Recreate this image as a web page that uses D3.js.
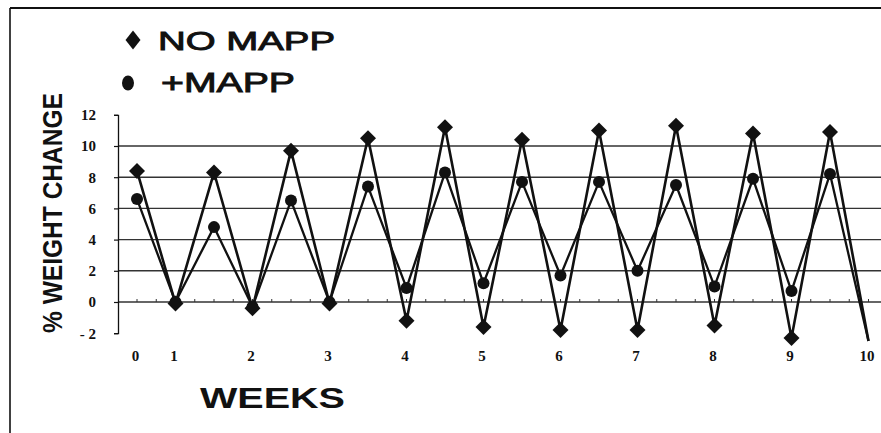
<!DOCTYPE html>
<html>
<head>
<meta charset="utf-8">
<script src="https://cdn.jsdelivr.net/npm/d3@7/dist/d3.min.js"></script>
<style>
  html, body { margin: 0; padding: 0; background: #fff; }
  svg { display: block; }
</style>
</head>
<body>
<svg id="chart" width="881" height="433"></svg>
<script>
// ---- data ----
const weekLabels = ["0","1","","2","","3","","4","","5","","6","","7","","8","","9","","10"];
const noMapp   = [8.4, -0.1, 8.3, -0.4, 9.7, -0.1, 10.5, -1.2, 11.2, -1.6, 10.4, -1.8, 11.0, -1.8, 11.3, -1.5, 10.8, -2.3, 10.9, -2.5];
const plusMapp = [6.6, 0.0, 4.8, -0.3, 6.5, 0.0, 7.4, 0.9, 8.3, 1.2, 7.7, 1.7, 7.7, 2.0, 7.5, 1.0, 7.9, 0.7, 8.2, -2.5];
const markerCount = 19; // last value of each series is the line end, drawn without a marker
const yTicks = [12, 10, 8, 6, 4, 2, 0, -2];
const gridValues = [10, 8, 6, 4, 2, 0];
const seriesNames = ["NO MAPP", "+MAPP"];

// ---- layout ----
const svg = d3.select("#chart");
const idx = d3.range(weekLabels.length);
const x = d3.scalePoint().domain(idx).range([137, 868.5]);
const y = d3.scaleLinear().domain([-2, 12]).range([333.2, 114.8]);
const ink = "#111";

// frame (top and left border)
svg.append("line").attr("x1", 10).attr("x2", 881).attr("y1", 8).attr("y2", 8)
  .attr("stroke", ink).attr("stroke-width", 2.2);
svg.append("line").attr("x1", 10).attr("x2", 10).attr("y1", 8).attr("y2", 433)
  .attr("stroke", ink).attr("stroke-width", 1.6);

// grid lines
svg.append("g").selectAll("line").data(gridValues).join("line")
  .attr("x1", 118).attr("x2", 881)
  .attr("y1", d => y(d)).attr("y2", d => y(d))
  .attr("stroke", "#333").attr("stroke-width", 1.4);

// small ticks on zero line (every half category)
const halfSteps = d3.range(0, weekLabels.length - 0.5, 0.5);
svg.append("g").selectAll("line").data(halfSteps).join("line")
  .attr("x1", d => x(0) + d * x.step()).attr("x2", d => x(0) + d * x.step())
  .attr("y1", y(0)).attr("y2", y(0) - 3)
  .attr("stroke", "#333").attr("stroke-width", 1);

// y axis
const yAxis = d3.axisLeft(y).tickValues(yTicks).tickSize(4).tickPadding(18)
  .tickFormat(d => d < 0 ? "- " + Math.abs(d) : String(d));
const gy = svg.append("g").attr("transform", "translate(118,0)").call(yAxis);
gy.select(".domain").attr("stroke", ink).attr("stroke-width", 1.3);
gy.selectAll(".tick line").attr("stroke", ink).attr("stroke-width", 1.2);
gy.selectAll("text").attr("font-family", "'Liberation Serif', serif").attr("font-weight", "bold")
  .attr("font-size", 15).attr("fill", ink);

// x axis labels
const xAxis = d3.axisBottom(x).tickSize(0).tickFormat(i => weekLabels[i]);
const gx = svg.append("g").attr("transform", "translate(-2,350)").call(xAxis);
gx.select(".domain").remove();
gx.selectAll("text").attr("font-family", "'Liberation Serif', serif").attr("font-weight", "bold")
  .attr("font-size", 15).attr("fill", ink).attr("dy", "0.71em").attr("y", 0);

// lines
const line = d3.line().x((d, i) => x(i)).y(d => y(d));
svg.append("path").datum(plusMapp).attr("d", line)
  .attr("fill", "none").attr("stroke", ink).attr("stroke-width", 2.3).attr("stroke-linejoin", "round");
svg.append("path").datum(noMapp).attr("d", line)
  .attr("fill", "none").attr("stroke", ink).attr("stroke-width", 2.6).attr("stroke-linejoin", "round");

// markers
const diamond = (cx, cy, w, h) => `M${cx},${cy - h}L${cx + w},${cy}L${cx},${cy + h}L${cx - w},${cy}Z`;
svg.append("g").selectAll("circle").data(plusMapp.slice(0, markerCount)).join("circle")
  .attr("cx", (d, i) => x(i)).attr("cy", d => y(d)).attr("r", 6).attr("fill", ink);
svg.append("g").selectAll("path").data(noMapp.slice(0, markerCount)).join("path")
  .attr("d", (d, i) => diamond(x(i), y(d), 8, 8)).attr("fill", ink);

// legend
svg.append("path").attr("d", diamond(133, 40, 7.5, 9.5)).attr("fill", ink);
svg.append("ellipse").attr("cx", 128).attr("cy", 83).attr("rx", 6).attr("ry", 7.5).attr("fill", ink);
svg.append("text").attr("x", 158).attr("y", 50).text(seriesNames[0])
  .attr("font-family", "'Liberation Sans', Arial, sans-serif")
  .attr("font-size", 26).attr("fill", ink).attr("stroke", ink).attr("stroke-width", 0.9)
  .attr("textLength", 177).attr("lengthAdjust", "spacingAndGlyphs");
svg.append("text").attr("x", 161).attr("y", 92).text(seriesNames[1])
  .attr("font-family", "'Liberation Sans', Arial, sans-serif")
  .attr("font-size", 27).attr("fill", ink).attr("stroke", ink).attr("stroke-width", 0.9)
  .attr("textLength", 134).attr("lengthAdjust", "spacingAndGlyphs");

// axis titles
svg.append("text").attr("x", 200).attr("y", 408).text("WEEKS")
  .attr("font-family", "'Liberation Sans', Arial, sans-serif").attr("font-weight", "bold")
  .attr("font-size", 30).attr("fill", ink)
  .attr("textLength", 145).attr("lengthAdjust", "spacingAndGlyphs");
svg.append("text").attr("transform", "translate(62,213) rotate(-90)")
  .attr("text-anchor", "middle").text("% WEIGHT CHANGE")
  .attr("font-family", "'Liberation Sans', Arial, sans-serif").attr("font-weight", "bold")
  .attr("font-size", 27).attr("fill", ink)
  .attr("textLength", 240).attr("lengthAdjust", "spacingAndGlyphs");
</script>
</body>
</html>
